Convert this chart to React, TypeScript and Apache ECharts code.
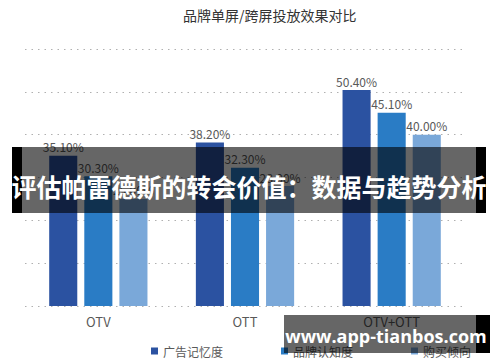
import React, { useEffect, useRef } from "react";
import * as echarts from "echarts";

const categories = ["OTV", "OTT", "OTV+OTT"];
const seriesNames = ["广告记忆度", "品牌认知度", "购买倾向"];
const adRecall = [35.1, 38.2, 50.4];
const brandAwareness = [30.3, 32.3, 45.1];
const purchaseIntent = [25.0, 28.0, 40.0];
const colors = ["#2b52a1", "#2a7cc5", "#7aa8d9"];
const titleText = "品牌单屏/跨屏投放效果对比";
const bannerText = "评估帕雷德斯的转会价值：数据与趋势分析";
const watermarkText = "www.app-tianbos.com";

export default function App() {
  const ref = useRef<HTMLDivElement>(null);
  useEffect(() => {
    if (!ref.current) return;
    const chart = echarts.init(ref.current, null, { renderer: "svg" });
    const values = [adRecall, brandAwareness, purchaseIntent];
    chart.setOption({
      animation: false,
      backgroundColor: "#ffffff",
      textStyle: { fontFamily: "'Noto Sans CJK SC', 'Noto Sans', sans-serif" },
      title: {
        text: titleText,
        left: 178,
        top: 3,
        textStyle: { fontSize: 14, fontWeight: "normal", color: "#333333" },
      },
      grid: { left: 25, right: 35, top: 49, bottom: 56 },
      legend: {
        bottom: 0,
        left: 146,
        itemWidth: 7,
        itemHeight: 7,
        itemGap: 58,
        icon: "rect",
        textStyle: { fontSize: 12, color: "#595959" },
        data: seriesNames,
      },
      xAxis: {
        type: "category",
        data: categories,
        axisLine: { show: false },
        axisTick: { show: false },
        axisLabel: { fontSize: 13, color: "#595959", margin: 9 },
      },
      yAxis: {
        type: "value",
        min: 0,
        max: 60,
        interval: 10,
        axisLabel: { show: false },
        axisLine: { show: false },
        axisTick: { show: false },
        splitLine: { lineStyle: { type: [1.5, 5], color: "#b0b0b0", width: 1 } },
      },
      series: seriesNames.map((name, i) => ({
        name,
        type: "bar",
        data: values[i],
        barGap: "25%",
        barCategoryGap: "33%",
        itemStyle: { color: colors[i] },
        label: {
          show: true,
          position: "top",
          distance: 3,
          fontSize: 12,
          color: "#595959",
          formatter: (p: any) => Number(p.value).toFixed(2) + "%",
        },
      })),
      graphic: [
        { type: "rect", shape: { x: 12, y: 147, width: 10, height: 66 }, style: { fill: "#000000" }, z: 100 },
        { type: "rect", shape: { x: 22, y: 147, width: 454, height: 66 }, style: { fill: "rgba(0,0,0,0.6)" }, z: 100 },
        { type: "rect", shape: { x: 476, y: 147, width: 10, height: 66 }, style: { fill: "#000000" }, z: 100 },
        {
          type: "text",
          x: 249,
          y: 186,
          z: 101,
          style: {
            text: bannerText,
            fill: "#ffffff",
            fontSize: 25,
            fontWeight: "bold",
            fontFamily: "'Noto Sans CJK SC', sans-serif",
            align: "center",
            verticalAlign: "middle",
          },
        },
        { type: "rect", shape: { x: 284, y: 315, width: 192, height: 38 }, style: { fill: "rgba(0,0,0,0.6)" }, z: 100 },
        { type: "rect", shape: { x: 476, y: 315, width: 14, height: 38 }, style: { fill: "#000000" }, z: 100 },
        {
          type: "text",
          x: 386,
          y: 336,
          z: 101,
          style: {
            text: watermarkText,
            fill: "#ffffff",
            fontSize: 18,
            fontWeight: "bold",
            fontFamily: "'Open Sans', sans-serif",
            align: "center",
            verticalAlign: "middle",
          },
        },
      ],
    });
    return () => chart.dispose();
  }, []);
  return (
    <div
      ref={ref}
      style={{ position: "fixed", left: 0, top: 0, width: 500, height: 362 }}
    />
  );
}
